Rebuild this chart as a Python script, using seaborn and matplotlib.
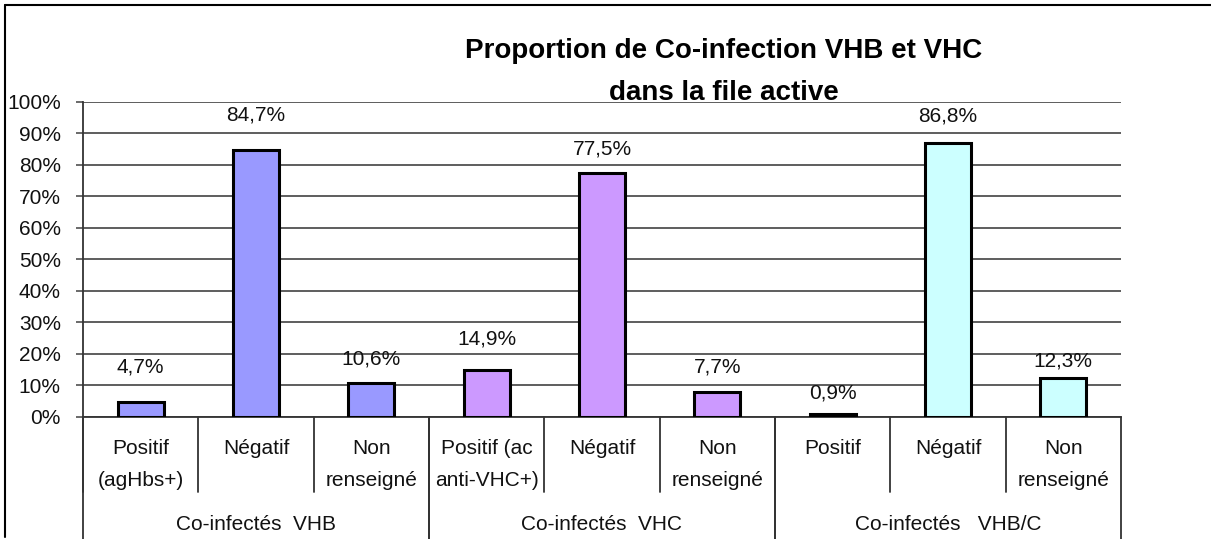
import pandas as pd
import matplotlib.pyplot as plt
import matplotlib.transforms as mtransforms
from matplotlib.lines import Line2D
import seaborn as sns

groups = ["Co-infectés  VHB", "Co-infectés  VHC", "Co-infectés   VHB/C"]
categories = [
    ["Positif\n(agHbs+)", "Négatif", "Non\nrenseigné"],
    ["Positif (ac\nanti-VHC+)", "Négatif", "Non\nrenseigné"],
    ["Positif", "Négatif", "Non\nrenseigné"],
]
values = [
    [4.7, 84.7, 10.6],
    [14.9, 77.5, 7.7],
    [0.9, 86.8, 12.3],
]
colors = ["#9999FF", "#CC99FF", "#CCFFFF"]
yticks = [0, 10, 20, 30, 40, 50, 60, 70, 80, 90, 100]
# label offsets above bar tops, in pixels
label_offsets = [35, 35, 24, 31, 24, 25, 21, 27, 17]

rows = []
for g, cats, vals in zip(groups, categories, values):
    for c, v in zip(cats, vals):
        rows.append({"key": g + "|" + c, "group": g, "cat": c, "value": v})
df = pd.DataFrame(rows)

sns.set_style("white")
plt.rcParams["font.family"] = ["Liberation Sans", "DejaVu Sans"]

W, H = 1211, 539
fs = 15
fig = plt.figure(figsize=(W / 100, H / 100), dpi=100)
ax = fig.add_axes([83 / W, 1 - 416.7 / H, (1121 - 83) / W, 315 / H])

sns.barplot(data=df, x="key", y="value", hue="group", palette=colors,
            saturation=1, dodge=False, width=0.4, edgecolor="black",
            linewidth=2.2, legend=False, ax=ax, zorder=3)

ax.set_xlim(-0.5, len(df) - 0.5)
ax.set_ylim(0, 100)
ax.set_yticks(yticks)
ax.set_yticklabels([f"{t}%" for t in yticks], fontsize=fs, color="#111111")
ax.yaxis.grid(True, color="#505050", linewidth=1.3, zorder=0)
ax.set_axisbelow(True)
ax.tick_params(axis="y", direction="out", length=5, width=1.2,
               color="#505050", pad=11, left=True)
ax.set_xticks([])
ax.set_xlabel("")
ax.set_ylabel("")
for s in ["top", "right"]:
    ax.spines[s].set_visible(False)
for s in ["left", "bottom"]:
    ax.spines[s].set_color("#333333")
    ax.spines[s].set_linewidth(1.3)

# value labels
for i, (v, off) in enumerate(zip(df["value"], label_offsets)):
    ax.annotate(f"{v:.1f}".replace(".", ",") + "%", (i, v),
                xytext=(0, off), textcoords="offset pixels",
                ha="center", va="center", fontsize=fs, color="#111111")

# two-level category axis
trans = mtransforms.blended_transform_factory(ax.transData, fig.transFigure)
y_top = 1 - 416.7 / H
y_mid = 1 - 492 / H
for i, c in enumerate(df["cat"]):
    fig.text(i, 1 - 439 / H, c, transform=trans, ha="center",
             va="top", fontsize=fs, color="#111111", linespacing=1.85)
    ax.plot([i - 0.5, i - 0.5], [y_top, y_mid], transform=trans,
            color="#333333", lw=1.3, clip_on=False)
for gi, g in enumerate(groups):
    n = len(categories[gi])
    start = sum(len(c) for c in categories[:gi])
    fig.text(start + (n - 1) / 2, 1 - 525 / H, g, transform=trans,
             ha="center", va="center", fontsize=fs, color="#111111")
    for xb in (start - 0.5, start + n - 0.5):
        ax.plot([xb, xb], [y_top, 0], transform=trans,
                color="#333333", lw=1.3, clip_on=False)

# title
fig.text(724 / W, 1 - 58 / H, "Proportion de Co-infection VHB et VHC",
         ha="center", va="baseline", fontsize=20, fontweight="bold",
         color="black")
fig.text(724 / W, 1 - 100 / H, "dans la file active",
         ha="center", va="baseline", fontsize=20, fontweight="bold",
         color="black")

# outer frame (top and left edges)
fig.add_artist(Line2D([5 / W, 1], [1 - 5 / H, 1 - 5 / H], color="black", lw=1.5))
fig.add_artist(Line2D([5 / W, 5 / W], [1 - 5 / H, 1 - 537 / H], color="black", lw=1.5))

fig.savefig("out.png", dpi=100)
